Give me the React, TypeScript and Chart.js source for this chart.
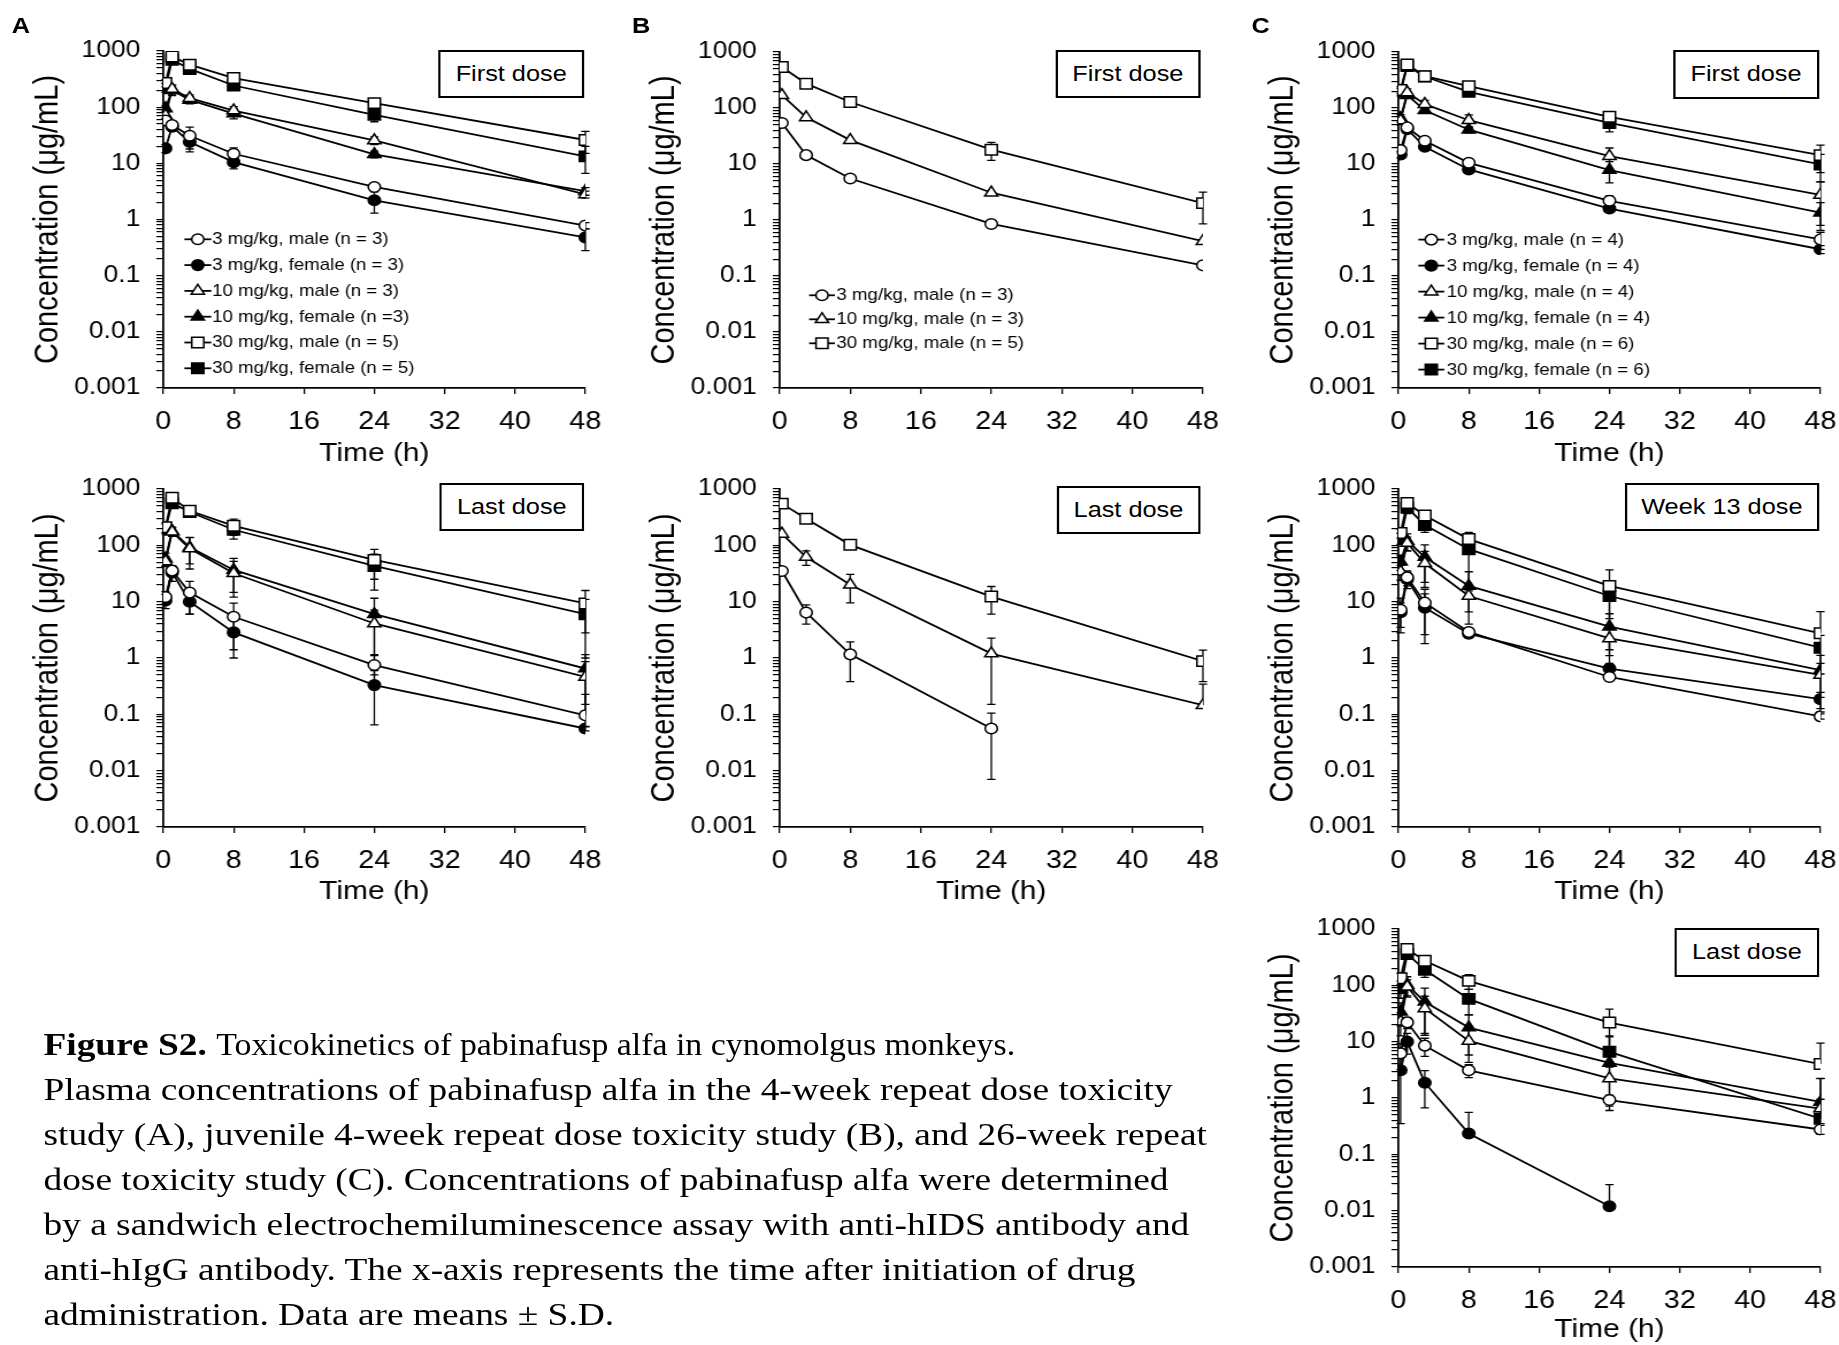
import React, { useEffect, useRef } from 'react';
import { Chart, registerables } from 'chart.js';

Chart.register(...registerables);

// ---------------- axis specs ----------------
const X_TICKS = [0, 8, 16, 24, 32, 40, 48];
const Y_DECADES = [0.001, 0.01, 0.1, 1, 10, 100, 1000];
const Y_MINOR = [2, 3, 4, 5, 6, 7, 8, 9];

// ---------------- time points (h) ----------------
const T_A = [0.25, 1, 3, 8, 24, 48];
const T_B = [0.25, 3, 8, 24, 48];
const T_C = [0.25, 1, 3, 8, 24, 48];

// ---------------- series labels ----------------
const LABELS_A = [
  '3 mg/kg, male (n = 3)',
  '3 mg/kg, female (n = 3)',
  '10 mg/kg, male (n = 3)',
  '10 mg/kg, female (n =3)',
  '30 mg/kg, male (n = 5)',
  '30 mg/kg, female (n = 5)',
];
const LABELS_B = ['3 mg/kg, male (n = 3)', '10 mg/kg, male (n = 3)', '30 mg/kg, male (n = 5)'];
const LABELS_C = [
  '3 mg/kg, male (n = 4)',
  '3 mg/kg, female (n = 4)',
  '10 mg/kg, male (n = 4)',
  '10 mg/kg, female (n = 4)',
  '30 mg/kg, male (n = 6)',
  '30 mg/kg, female (n = 6)',
];

// ---------------- values (µg/mL), one row per series ----------------
const A_FIRST_MEAN = [
  [58, 48, 31, 14.8, 3.8, 0.78],
  [18.5, 45, 24, 10.5, 2.2, 0.48],
  [71, 210, 145, 87, 25.6, 2.8],
  [95, 200, 135, 77, 14.5, 3.2],
  [270, 800, 570, 330, 118, 26],
  [224, 700, 480, 243, 73, 13.3],
];
const A_FIRST_SD = [
  [6, 8, 13, 4, 0.6, 0.1],
  [3, 8, 8, 2.5, 0.9, 0.2],
  [10, 40, 20, 15, 4, 0.4],
  [10, 40, 20, 15, 2, 0.5],
  [40, 100, 60, 40, 20, 11],
  [40, 100, 60, 40, 18, 6.7],
];
const A_LAST_MEAN = [
  [12.1, 35.6, 14.5, 5.4, 0.75, 0.096],
  [10.5, 33, 10, 2.85, 0.33, 0.056],
  [52, 174, 88, 32, 4.1, 0.46],
  [58, 180, 92, 36.6, 6.0, 0.65],
  [210, 700, 410, 222, 55, 9.3],
  [200, 560, 390, 189, 43, 6.0],
];
const A_LAST_SD = [
  [3, 8, 8.5, 4, 0.4, 0.13],
  [3, 10, 4, 1.85, 0.265, 0.005],
  [10, 30, 50, 20, 3, 0.4],
  [15, 30, 45, 22, 5.5, 0.5],
  [40, 100, 60, 70, 30, 6.5],
  [40, 100, 60, 60, 27, 5],
];
const B_FIRST_MEAN = [
  [54, 14.4, 5.5, 0.85, 0.155],
  [169, 68, 26.7, 3.07, 0.42],
  [540, 272, 128, 18, 2.0],
];
const B_FIRST_SD = [
  [0, 0, 0, 0, 0],
  [0, 0, 0, 0, 0],
  [0, 0, 0, 6.4, 1.15],
];
const B_LAST_MEAN = [
  [35, 6.4, 1.16, 0.056, null],
  [160, 62, 20, 1.2, 0.145],
  [550, 296, 102, 12.3, 0.88],
];
const B_LAST_SD = [
  [0, 2.4, 0.78, 0.049, 0],
  [0, 18, 10.5, 1.05, 0.2],
  [0, 0, 0, 6.3, 0.5],
];
const C_FIRST_MEAN = [
  [17.7, 45, 26, 10.5, 2.2, 0.45],
  [14.8, 42, 20.3, 8.0, 1.6, 0.3],
  [60, 190, 117, 60.5, 13.8, 2.8],
  [66, 170, 91, 41, 7.8, 1.35],
  [210, 600, 370, 245, 69.5, 14.4],
  [195, 560, 365, 194, 54, 9.8],
];
const C_FIRST_SD = [
  [2, 5, 3, 1.5, 0.5, 0.15],
  [2, 5, 2, 1, 0.2, 0.05],
  [10, 30, 20, 15, 5.5, 2],
  [10, 20, 10, 5, 3.2, 0.7],
  [30, 60, 30, 30, 10, 7.4],
  [30, 60, 30, 25, 16.5, 5],
];
const C_WEEK13_MEAN = [
  [7.2, 27, 9.6, 2.9, 0.46, 0.092],
  [6.5, 25, 7.8, 2.7, 0.65, 0.186],
  [34, 110, 48, 12.6, 2.23, 0.5],
  [51, 120, 62, 19, 3.6, 0.61],
  [165, 564, 340, 129, 19, 2.74],
  [134, 465, 230, 85.5, 12.6, 1.52],
];
const C_WEEK13_SD = [
  [4.4, 8, 7, 0.5, 0.05, 0.01],
  [3, 8, 6, 0.4, 0.15, 0.06],
  [10, 30, 30, 6, 1.5, 0.3],
  [15, 40, 40, 15, 2.5, 0.5],
  [30, 100, 50, 40, 17.6, 3.9],
  [30, 100, 60, 70, 7.6, 1.0],
];
const C_LAST_MEAN = [
  [6.2, 22, 8.5, 3.1, 0.92, 0.276],
  [3.1, 10, 1.87, 0.234, 0.012, null],
  [22.7, 95, 39, 10.3, 2.23, 0.65],
  [34, 102, 51, 17.8, 4.2, 0.85],
  [134, 440, 273, 120, 21.8, 4.0],
  [89, 360, 189, 57.5, 6.6, 0.43],
];
const C_LAST_SD = [
  [3, 5, 3, 0.8, 0.2, 0.05],
  [2.75, 4, 1.2, 0.32, 0.017, 0],
  [10, 30, 25, 6, 1.3, 0.3],
  [15, 40, 38, 12, 8, 1.35],
  [30, 60, 40, 35, 16, 5.4],
  [30, 60, 50, 27.5, 6, 1.8],
];

const CAPTION_TITLE = 'Figure S2.';
const CAPTION_FIRST = 'Toxicokinetics of pabinafusp alfa in cynomolgus monkeys.';
const CAPTION_LINES = [
  'Plasma concentrations of pabinafusp alfa in the 4-week repeat dose toxicity',
  'study (A), juvenile 4-week repeat dose toxicity study (B), and 26-week repeat',
  'dose toxicity study (C). Concentrations of pabinafusp alfa were determined',
  'by a sandwich electrochemiluminescence assay with anti-hIDS antibody and',
  'anti-hIgG antibody. The x-axis represents the time after initiation of drug',
  'administration. Data are means \u00b1 S.D.',
];

// ---------------- styles / layout ----------------
const S = 1.15; // horizontal stretch of the whole figure
const FONT = '"Liberation Sans", Arial, Helvetica, sans-serif';
const SERIF = '"Liberation Serif", "Times New Roman", Times, serif';
const STYLE6: [string, boolean][] = [
  ['circle', false], ['circle', true], ['triangle', false], ['triangle', true], ['rect', false], ['rect', true],
];
const STYLE3: [string, boolean][] = [['circle', false], ['triangle', false], ['rect', false]];
const YW = 120;
const PT = 32;
const PR = 30;

const Y_TICK_VALUES: number[] = (() => {
  const out: number[] = [];
  Y_DECADES.forEach((d, i) => {
    out.push(d);
    if (i < Y_DECADES.length - 1) Y_MINOR.forEach((m) => out.push(Number((m * d).toPrecision(6))));
  });
  return out;
})();

function radiusFor(shape: string) {
  return shape === 'rect' ? 7.4 : shape === 'triangle' ? 6.6 : 5.3;
}

function drawMarker(ctx: CanvasRenderingContext2D, shape: string, filled: boolean, x: number, y: number, r: number) {
  ctx.beginPath();
  if (shape === 'circle') {
    ctx.arc(x, y, r, 0, Math.PI * 2);
  } else if (shape === 'rect') {
    const s = r * Math.SQRT1_2;
    ctx.rect(x - s, y - s, 2 * s, 2 * s);
  } else {
    ctx.moveTo(x, y - r);
    ctx.lineTo(x + 0.866 * r, y + 0.5 * r);
    ctx.lineTo(x - 0.866 * r, y + 0.5 * r);
    ctx.closePath();
  }
  ctx.fillStyle = filled ? '#000' : '#fff';
  ctx.fill();
  ctx.lineWidth = 1.5;
  ctx.strokeStyle = '#000';
  ctx.stroke();
}

const errorBars = {
  id: 'errorBars',
  beforeDatasetsDraw(chart: any) {
    const { ctx, scales } = chart;
    const xs = scales.x;
    const ys = scales.y;
    const cap = 3.6;
    ctx.save();
    ctx.strokeStyle = '#000';
    ctx.lineWidth = 1.3;
    chart.data.datasets.forEach((ds: any) => {
      ds.data.forEach((p: any, j: number) => {
        const sd = ds.sd ? ds.sd[j] : 0;
        if (p.y == null || !sd) return;
        const px = xs.getPixelForValue(p.x);
        const hi = ys.getPixelForValue(p.y + sd);
        const hasLo = p.y - sd > 0;
        const lo = hasLo ? ys.getPixelForValue(p.y - sd) : ys.getPixelForValue(p.y);
        ctx.beginPath();
        ctx.moveTo(px, lo);
        ctx.lineTo(px, hi);
        ctx.moveTo(px - cap, hi);
        ctx.lineTo(px + cap, hi);
        if (hasLo) {
          ctx.moveTo(px - cap, lo);
          ctx.lineTo(px + cap, lo);
        }
        ctx.stroke();
      });
    });
    ctx.restore();
  },
};

const pkLegend = {
  id: 'pkLegend',
  afterDraw(chart: any, _args: any, opts: any) {
    if (!opts || !opts.show) return;
    const { ctx, chartArea } = chart;
    ctx.save();
    ctx.font = `${opts.fontSize}px ${FONT}`;
    ctx.textBaseline = 'middle';
    ctx.textAlign = 'left';
    chart.data.datasets.forEach((ds: any, i: number) => {
      const cx = chartArea.left + opts.x;
      const cy = chartArea.top + opts.y + i * opts.rowH;
      ctx.beginPath();
      ctx.strokeStyle = '#000';
      ctx.lineWidth = 1.8;
      ctx.moveTo(cx - opts.half, cy);
      ctx.lineTo(cx + opts.half, cy);
      ctx.stroke();
      drawMarker(ctx, ds.pointStyle, ds.pointBackgroundColor === '#000', cx, cy, ds.pointRadius);
      ctx.fillStyle = '#000';
      ctx.fillText(ds.label, cx + opts.textDx, cy + 0.5);
    });
    ctx.restore();
  },
};

function makeDatasets(times: number[], means: (number | null)[][], sds: number[][], styles: [string, boolean][], labels: string[]) {
  return means.map((m, i) => {
    const [shape, filled] = styles[i];
    return {
      label: labels[i],
      data: times.map((t, j) => ({ x: t, y: m[j] })),
      sd: sds[i],
      borderColor: '#000',
      borderWidth: 1.8,
      backgroundColor: filled ? '#000' : '#fff',
      pointStyle: shape,
      pointRadius: radiusFor(shape),
      pointBorderWidth: 1.5,
      pointBackgroundColor: filled ? '#000' : '#fff',
      pointBorderColor: '#000',
      fill: false,
      tension: 0,
      spanGaps: false,
    };
  });
}

type Panel = {
  key: string;
  left: number;
  right: number;
  top: number;
  bottom: number;
  xh: number;
  xTitle: boolean;
  times: number[];
  means: (number | null)[][];
  sds: number[][];
  styles: [string, boolean][];
  labels: string[];
  legend: any;
};

const PANELS: Panel[] = [
  { key: 'A1', left: 142, right: 509, top: 51, bottom: 388, xh: 81, xTitle: true, times: T_A, means: A_FIRST_MEAN, sds: A_FIRST_SD, styles: STYLE6, labels: LABELS_A,
    legend: { show: true, x: 30, y: 188.3, rowH: 25.8, half: 11.7, textDx: 12.5, fontSize: 16.2 } },
  { key: 'A2', left: 142, right: 509, top: 489, bottom: 827, xh: 80, xTitle: true, times: T_A, means: A_LAST_MEAN, sds: A_LAST_SD, styles: STYLE6, labels: LABELS_A, legend: { show: false } },
  { key: 'B1', left: 678, right: 1046, top: 52, bottom: 388, xh: 81, xTitle: false, times: T_B, means: B_FIRST_MEAN, sds: B_FIRST_SD, styles: STYLE3, labels: LABELS_B,
    legend: { show: true, x: 36.8, y: 243.3, rowH: 24, half: 11.2, textDx: 12.4, fontSize: 16.3 } },
  { key: 'B2', left: 678, right: 1046, top: 489, bottom: 827, xh: 80, xTitle: true, times: T_B, means: B_LAST_MEAN, sds: B_LAST_SD, styles: STYLE3, labels: LABELS_B, legend: { show: false } },
  { key: 'C1', left: 1216, right: 1583, top: 52, bottom: 388, xh: 81, xTitle: true, times: T_C, means: C_FIRST_MEAN, sds: C_FIRST_SD, styles: STYLE6, labels: LABELS_C,
    legend: { show: true, x: 28.6, y: 187.6, rowH: 26, half: 11.3, textDx: 13.3, fontSize: 16.3 } },
  { key: 'C2', left: 1216, right: 1583, top: 489, bottom: 827, xh: 80, xTitle: true, times: T_C, means: C_WEEK13_MEAN, sds: C_WEEK13_SD, styles: STYLE6, labels: LABELS_C, legend: { show: false } },
  { key: 'C3', left: 1216, right: 1583, top: 929, bottom: 1267, xh: 78, xTitle: true, times: T_C, means: C_LAST_MEAN, sds: C_LAST_SD, styles: STYLE6, labels: LABELS_C, legend: { show: false } },
];

const BOXES = [
  { text: 'First dose', left: 381, right: 508, top: 49.5, bottom: 98 },
  { text: 'Last dose', left: 382, right: 508, top: 483, bottom: 531 },
  { text: 'First dose', left: 917.5, right: 1044, top: 49.5, bottom: 98 },
  { text: 'Last dose', left: 918.5, right: 1044, top: 486, bottom: 534 },
  { text: 'First dose', left: 1454.5, right: 1582, top: 49.5, bottom: 98.5 },
  { text: 'Week 13 dose', left: 1412.5, right: 1582, top: 483, bottom: 531 },
  { text: 'Last dose', left: 1456, right: 1582, top: 928, bottom: 976.5 },
];

const LETTERS = [
  { text: 'A', left: 10.3, top: 14.7 },
  { text: 'B', left: 549.5, top: 14.7 },
  { text: 'C', left: 1088.3, top: 14.7 },
];

function fmtDecade(v: number) {
  const e = Math.log10(v);
  const r = Math.round(e);
  if (Math.abs(e - r) > 1e-6) return '';
  return r >= 0 ? String(Math.pow(10, r)) : Math.pow(10, r).toFixed(-r);
}

function PanelChart({ p }: { p: Panel }) {
  const ref = useRef<HTMLCanvasElement>(null);
  const w = YW + (p.right - p.left) + PR;
  const h = PT + (p.bottom - p.top) + p.xh;
  useEffect(() => {
    if (!ref.current) return;
    const chart = new Chart(ref.current, {
      type: 'line',
      data: { datasets: makeDatasets(p.times, p.means, p.sds, p.styles, p.labels) as any },
      options: {
        responsive: false,
        animation: false,
        devicePixelRatio: 1,
        events: [],
        layout: { padding: { top: PT, right: PR, left: 0, bottom: 0 } },
        plugins: {
          legend: { display: false },
          tooltip: { enabled: false },
          pkLegend: p.legend,
        } as any,
        scales: {
          x: {
            type: 'linear',
            min: 0,
            max: 48,
            afterBuildTicks: (s: any) => {
              s.ticks = X_TICKS.map((v) => ({ value: v }));
            },
            afterFit: (s: any) => {
              s.height = p.xh;
            },
            ticks: { autoSkip: false, color: '#000', padding: 13, font: { family: FONT, size: 25 } },
            grid: { drawOnChartArea: false, drawTicks: true, tickLength: 6, color: '#000', lineWidth: 1.3 },
            border: { display: true, color: '#000', width: 1.8 },
            title: {
              display: p.xTitle,
              text: 'Time (h)',
              color: '#000',
              font: { family: FONT, size: 26 },
              padding: { top: 0, bottom: 0 },
            },
          },
          y: {
            type: 'logarithmic',
            min: 0.001,
            max: 1000,
            afterBuildTicks: (s: any) => {
              s.ticks = Y_TICK_VALUES.map((v) => ({ value: v }));
            },
            afterFit: (s: any) => {
              s.width = YW;
            },
            ticks: {
              autoSkip: false,
              color: '#000',
              padding: 14,
              font: { family: FONT, size: 23 },
              callback: (v: any) => fmtDecade(Number(v)),
            },
            grid: { drawOnChartArea: false, drawTicks: true, tickLength: 6, color: '#000', lineWidth: 1.2 },
            border: { display: true, color: '#000', width: 1.8 },
            title: {
              display: true,
              text: 'Concentration (\u03bcg/mL)',
              color: '#000',
              font: { family: FONT, size: 29 },
              padding: { top: 3, bottom: 0 },
            },
          },
        } as any,
      },
      plugins: [errorBars, pkLegend] as any,
    });
    return () => chart.destroy();
  }, []);
  return (
    <canvas
      ref={ref}
      width={w}
      height={h}
      style={{ position: 'absolute', left: p.left - YW, top: p.top - PT, width: w, height: h }}
    />
  );
}

export default function App() {
  return (
    <div style={{ position: 'absolute', left: 0, top: 0, width: 1839, height: 1345, overflow: 'hidden', background: '#fff' }}>
      <div
        style={{
          position: 'absolute',
          left: 0,
          top: 0,
          width: 1839 / S,
          height: 1345,
          transform: `scaleX(${S})`,
          transformOrigin: '0 0',
        }}
      >
        {PANELS.map((p) => (
          <PanelChart key={p.key} p={p} />
        ))}
        {BOXES.map((b, i) => (
          <div
            key={'box' + i}
            style={{
              position: 'absolute',
              left: b.left,
              top: b.top,
              width: b.right - b.left,
              height: b.bottom - b.top,
              boxSizing: 'border-box',
              border: '2px solid #000',
              background: '#fff',
              display: 'flex',
              alignItems: 'center',
              justifyContent: 'center',
              fontFamily: FONT,
              fontSize: 22,
              color: '#000',
              whiteSpace: 'nowrap',
            }}
          >
            {b.text}
          </div>
        ))}
        {LETTERS.map((l) => (
          <div
            key={l.text}
            style={{
              position: 'absolute',
              left: l.left,
              top: l.top,
              fontFamily: FONT,
              fontWeight: 'bold',
              fontSize: 22,
              lineHeight: '22px',
              color: '#000',
            }}
          >
            {l.text}
          </div>
        ))}
        <div
          style={{
            position: 'absolute',
            left: 37.8,
            top: 1022,
            fontFamily: SERIF,
            fontSize: 32.5,
            lineHeight: '45px',
            whiteSpace: 'nowrap',
            color: '#000',
          }}
        >
          <div>
            <b>{CAPTION_TITLE}</b>{' '}
            <span style={{ display: 'inline-block', transform: 'scaleX(0.905)', transformOrigin: '0 50%' }}>{CAPTION_FIRST}</span>
          </div>
          {CAPTION_LINES.map((t, i) => (
            <div key={i}>{t}</div>
          ))}
        </div>
      </div>
    </div>
  );
}
